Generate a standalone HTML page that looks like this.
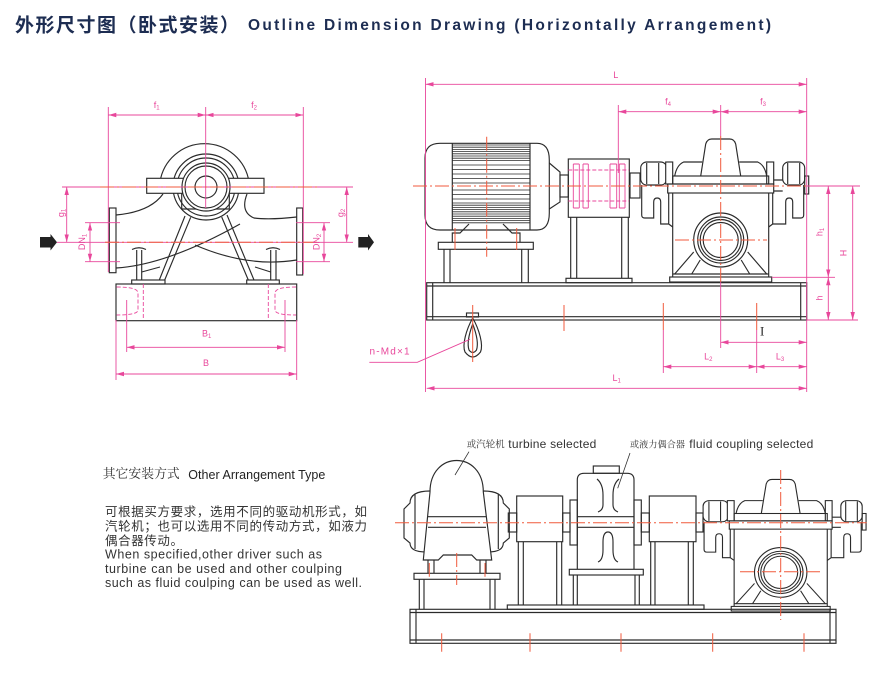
<!DOCTYPE html>
<html><head><meta charset="utf-8">
<style>
html,body{margin:0;padding:0;background:#fff;width:887px;height:679px;overflow:hidden}
svg{display:block}
.k{stroke:#2b2b2b;stroke-width:1.15;fill:none}
.w{fill:#fff}
.p{stroke:#e8479b;stroke-width:0.9;fill:none}
.dm{stroke:#e8479b;stroke-width:0.9;fill:none;marker-start:url(#ar);marker-end:url(#ar)}
.r{stroke:#f05a3c;stroke-width:1;fill:none;stroke-dasharray:14 3 2 3}
.rs{stroke:#f05a3c;stroke-width:1;fill:none}
.pd{stroke:#e8479b;stroke-width:0.9;fill:none;stroke-dasharray:4 2}
.pt{fill:#e8479b;font-family:"Liberation Sans",sans-serif;font-size:9px;text-anchor:middle}
</style></head><body>
<svg width="887" height="679" viewBox="0 0 887 679" xmlns="http://www.w3.org/2000/svg">
<defs>
<marker id="ar" viewBox="0 0 8 6" refX="8" refY="3" markerWidth="8" markerHeight="6" markerUnits="userSpaceOnUse" orient="auto-start-reverse"><path d="M0,0.8 L8,3 L0,5.2 z" fill="#e8479b"/></marker>
<g id="pump" fill="none" stroke="#2b2b2b" stroke-width="1.15">
 <path d="M-79,-1 V29 Q-79,32 -76,32 H-67 V16 Q-67,12 -63.5,12 Q-60,12 -60,16 V38 H-52 V7 M-52,38 L-48,41"/>
 <rect x="-80" y="-24" width="26" height="23" rx="6" fill="#fff"/>
 <path d="M-74,-23 V-2 M-62,-23 V-2"/>
 <rect x="-55" y="-24" width="7" height="22" fill="#fff"/>
 <rect x="46" y="-24" width="7" height="22" fill="#fff"/>
 <path d="M53,-6 H62 M53,5 H62"/>
 <path d="M83,-1 V29 Q83,32 80,32 H72 V16 Q72,12 68.5,12 Q65,12 65,16 V38 H52 V7 M52,38 L48,41"/>
 <rect x="62" y="-24" width="22" height="23" rx="6" fill="#fff"/>
 <path d="M67,-23 V-2 M79,-23 V-2"/>
 <rect x="84" y="-10" width="4" height="18"/>
 <path d="M-46,-10 Q-44,-21 -37,-24 H-18.5 M46,-10 Q44,-21 37,-24 H18.5"/>
 <path d="M-20,-10 L-15,-42 Q-13.5,-47 -9,-47 H9 Q13.5,-47 15,-42 L20,-10"/>
 <rect x="-48" y="-10" width="96" height="8"/>
 <rect x="-53" y="-2" width="106" height="9"/>
 <path d="M-48,7 V91 M48,7 V91 M-48,88 H48"/>
 <rect x="-51" y="91" width="102" height="5"/>
 <path d="M-27,66 L-46,88 M-20.5,74 L-29,88 M27,66 L46,88 M20.5,74 L29,88"/>
 <circle cx="0" cy="54" r="27" fill="#fff"/>
 <circle cx="0" cy="54" r="23"/>
 <circle cx="0" cy="54" r="20.5"/>
 <circle cx="0" cy="54" r="17.5"/>
</g>
</defs>

<!-- Title -->
<text x="15" y="31.5" font-family="'Liberation Sans','Noto Sans CJK SC',sans-serif" font-weight="bold" font-size="19" fill="#1d2d52" textLength="224" lengthAdjust="spacing">外形尺寸图（卧式安装）</text>
<text x="248" y="30" font-family="'Liberation Sans',sans-serif" font-weight="bold" font-size="15.5" fill="#1d2d52" textLength="523" lengthAdjust="spacing">Outline Dimension Drawing (Horizontally Arrangement)</text>

<!-- ===== LEFT VIEW ===== -->
<g class="k">
 <circle cx="206" cy="187" r="33"/>
 <circle cx="206" cy="187" r="29"/>
 <path d="M160,182 A45,45 0 0 1 249,182"/>
 <path d="M163,194 Q150,212 116,215"/>
 <path d="M247,194 Q240,212 254,218 Q270,220 296.7,217"/>
 <path d="M116,268 C150,266 190,252 240,224"/>
 <path d="M195,245 C225,258 260,266 296.7,260"/>
 <path d="M185,216 L159.3,280 M190.7,217.3 L164.7,280 M221.7,217 L248.3,280 M227,215 L254,280"/>
 <path d="M141.7,272 L160,267 M255,267 L270.7,272"/>
 <path d="M136.7,280 V250 M141.7,280 V250 M132,249.5 Q139,246 146,249.5 M270.7,280 V250 M276,280 V250 M266,249.5 Q273,246 280,249.5"/>
 <rect class="w" x="146.7" y="178.3" width="117.3" height="15"/>
 <path d="M181.7,193.3 V209 H229.3 V193.3"/>
 <circle class="w" cx="206" cy="187" r="24"/>
 <circle cx="206" cy="187" r="21"/>
 <circle cx="206" cy="187" r="11"/>
 <rect class="w" x="109.3" y="208" width="6.7" height="64.7"/>
 <rect class="w" x="296.7" y="208" width="6" height="67"/>
 <rect x="131.7" y="280" width="33.3" height="4"/>
 <rect x="246.7" y="280" width="32.6" height="4"/>
 <rect x="116" y="284" width="180.7" height="36.7"/>
</g>
<path class="pd" d="M116.7,287 Q138,287 138,293 V310 Q138,315 116.7,315 M143.3,284 V320 M296,287 Q275,287 275,293 V310 Q275,315 296,315 M268.3,284 V320"/>
<path fill="#222" d="M40,237 H50.5 V234 L57,242.3 L50.5,250.5 V247.5 H40 Z"/>
<path fill="#222" d="M358.3,237 H368 V234 L374,242.3 L368,250.5 V247.5 H358.3 Z"/>

<path class="p" d="M108.3,107 V272 M303.3,107 V274 M205.7,107 V208 M62,187 H353 M57,242.3 H353 M85,222.7 H120 M85,261.7 H120 M296,222.7 H330 M296,261.7 H330 M116,320 V380 M296.7,320 V380 M126.7,300 V352 M285,300 V352"/>
<path class="r" d="M100,187 H320 M105,242.3 H320"/>
<path class="dm" d="M108.3,115 H205.7"/>
<path class="dm" d="M205.7,115 H303.3"/>
<path class="dm" d="M66.7,187 V242.3"/>
<path class="dm" d="M90,222.7 V261.7"/>
<path class="dm" d="M346.7,187 V242.3"/>
<path class="dm" d="M324,222.7 V261.7"/>
<path class="dm" d="M126.7,347.3 H285"/>
<path class="dm" d="M116,374 H296.7"/>
<text class="pt" x="156.7" y="108">f<tspan font-size="6" dy="1.5">1</tspan></text>
<text class="pt" x="254" y="108">f<tspan font-size="6" dy="1.5">2</tspan></text>
<text class="pt" transform="translate(64,213) rotate(-90)">g<tspan font-size="6" dy="1.5">1</tspan></text>
<text class="pt" transform="translate(85,242) rotate(-90)">DN<tspan font-size="6" dy="1.5">1</tspan></text>
<text class="pt" transform="translate(343.5,213) rotate(-90)">g<tspan font-size="6" dy="1.5">2</tspan></text>
<text class="pt" transform="translate(319.5,242) rotate(-90)">DN<tspan font-size="6" dy="1.5">2</tspan></text>
<text class="pt" x="206.7" y="336.5">B<tspan font-size="6" dy="1.5">1</tspan></text>
<text class="pt" x="206" y="366">B</text>

<!-- ===== RIGHT VIEW ===== -->
<g class="k">
 <rect x="426.7" y="282.7" width="380" height="37.3"/>
 <path d="M426.7,286 H806.7 M426.7,316.7 H806.7 M432.7,282.7 V320 M800.7,282.7 V320"/>
 <path d="M440,143.3 H537 Q549.3,143.3 549.3,160 V213 Q549.3,230 537,230 H440 Q425,230 425,215 V158 Q425,143.3 440,143.3 Z"/>
 <path d="M452.3,143.3 V230 M530,143.3 V230"/>
 <path stroke-width="0.8" d="M452.3,145 H530 M452.3,147.2 H530 M452.3,149.4 H530 M452.3,151.6 H530 M452.3,153.8 H530 M452.3,156 H530 M452.3,158.2 H530 M452.3,160.4 H530 M452.3,165 H530 M452.3,169.5 H530 M452.3,174 H530 M452.3,178.5 H530 M452.3,183 H530 M452.3,190 H530 M452.3,194.5 H530 M452.3,199 H530 M452.3,203 H530 M452.3,205.2 H530 M452.3,207.4 H530 M452.3,209.6 H530 M452.3,211.8 H530 M452.3,214 H530 M452.3,216.2 H530 M452.3,218.4 H530 M452.3,220.6 H530 M452.3,222.8 H530"/>
 <path d="M452.3,242.3 V233 H460 L469,224 M503,224 L512,233 H520 V242.3"/>
 <rect x="438.3" y="242.3" width="95" height="7"/>
 <path d="M444,249.3 V282.7 M450,249.3 V282.7 M521.7,249.3 V282.7 M528.3,249.3 V282.7"/>
 <path d="M549.3,163 L560,172 V202 L549.3,209"/>
 <rect x="560" y="175" width="8.3" height="22"/>
 <rect x="568.3" y="159" width="61" height="58.3"/>
 <path d="M570.7,217.3 V278.3 M576.7,217.3 V278.3 M621.7,217.3 V278.3 M628.3,217.3 V278.3"/>
 <rect x="566" y="278.3" width="66" height="4.4"/>
 <rect x="630" y="173" width="10" height="25"/>
 <rect x="466.5" y="313" width="12" height="4"/>
 <path d="M472.7,318 C466,330 462,345 465,352 Q472.7,362 480.5,352 C483.5,345 479.5,330 472.7,318 Z"/>
 <path d="M472.7,324 C469,334 467,344 469,350 Q472.7,355 476.5,350 C478.5,344 476.5,334 472.7,324 Z"/>
</g>
<path class="p" d="M573.3,164 V208 M579.3,164 V208 M583,164 V208 M588.3,164 V208 M610,164 V208 M616.7,164 V208 M619.3,164 V208 M625,164 V208 M573.3,164 H579.3 M583,164 H588.3 M610,164 H616.7 M619.3,164 H625 M573.3,208 H579.3 M583,208 H588.3 M610,208 H616.7 M619.3,208 H625"/>
<path class="pd" d="M568.3,170 H629 M568.3,201 H629"/>
<g transform="translate(720.7,186)"><use href="#pump"/></g>

<path class="p" d="M425.5,78 V392 M806.7,78 V392 M618.3,105 V173 M720.7,105 V136 M720.7,282 V348 M806.7,186 H860 M771.7,277.3 H835 M806.7,320 H858 M663.3,330 V373 M756.7,330 V373"/>
<path class="p" d="M470,339.3 L417.3,362.3 H369.3"/>
<path class="dm" d="M425.5,84.3 H806.7"/>
<path class="dm" d="M618.3,111.7 H720.7"/>
<path class="dm" d="M720.7,111.7 H806.7"/>
<path class="dm" d="M828.3,186 V277.3"/>
<path class="dm" d="M828.3,277.3 V320"/>
<path class="dm" d="M852.7,186 V320"/>
<path class="dm" d="M720.7,342.3 H806.7"/>
<path class="dm" d="M663.3,366.7 H756.7"/>
<path class="dm" d="M756.7,366.7 H806.7"/>
<path class="dm" d="M426.7,388.3 H806.7"/>
<text class="pt" x="615.7" y="78">L</text>
<text class="pt" x="668" y="104.5">f<tspan font-size="6" dy="1.5">4</tspan></text>
<text class="pt" x="763" y="104.5">f<tspan font-size="6" dy="1.5">3</tspan></text>
<text class="pt" transform="translate(822.5,232) rotate(-90)">h<tspan font-size="6" dy="1.5">1</tspan></text>
<text class="pt" transform="translate(846.5,253) rotate(-90)">H</text>
<text class="pt" transform="translate(822.5,298) rotate(-90)">h</text>
<text class="pt" x="708.3" y="359.5">L<tspan font-size="6" dy="1.5">2</tspan></text>
<text class="pt" x="780" y="359.5">L<tspan font-size="6" dy="1.5">3</tspan></text>
<text class="pt" x="616.7" y="381">L<tspan font-size="6" dy="1.5">1</tspan></text>
<text x="369.5" y="354.5" font-family="'Liberation Sans',sans-serif" font-size="10" fill="#e8479b" textLength="40" lengthAdjust="spacing">n-Md×1</text>
<text x="760" y="335.5" font-family="'Liberation Serif',serif" font-size="13" fill="#2b2b2b">I</text>

<path class="r" d="M413,186 H806.7 M486.7,136.7 V256.7 M720.7,136 V282 M675,240 H767"/>
<path class="rs" d="M455,228 V250 M516.7,228 V250 M564,305 V331 M663.3,303 V330 M756.7,303 V330 M472.7,305 V362"/>

<!-- ===== BOTTOM VIEW ===== -->
<g class="k">
 <rect x="410" y="609.3" width="426" height="34"/>
 <path d="M416,609.3 V643.3 M830,609.3 V643.3 M410,640 H836 M410,612.5 H836"/>
 <path d="M430,491 Q410,491 410,503 L404,509 V538 L410,543 Q410,552 426,552 M415,494 V549"/>
 <path d="M483.3,491 Q503.3,491 503.3,503 L509.3,509 V538 L503.3,543 Q503.3,552 488,552 M498.3,494 V549"/>
 <path class="w" d="M430,492 C430,450 483.3,450 483.3,492 L491.7,560 H476.7 L471.7,555 H443.3 L438.3,560 H423.3 Z"/>
 <path d="M428,516.7 H486 M428,527.3 H486"/>
 <rect x="508.3" y="513" width="8.4" height="19"/>
 <path d="M428,560 V573.3 M434,560 V573.3 M480,560 V573.3 M486,560 V573.3"/>
 <rect x="414" y="573.3" width="86" height="6"/>
 <path d="M419.3,579.3 V609.3 M424,579.3 V609.3 M490,579.3 V609.3 M495,579.3 V609.3"/>
 <rect x="516.7" y="496" width="46" height="45.7"/>
 <path d="M518.3,541.7 V605 M523.3,541.7 V605 M556.7,541.7 V605 M561.7,541.7 V605"/>
 <rect x="507.3" y="605" width="196.7" height="4.3"/>
 <rect x="562.7" y="513" width="7.3" height="19"/>
 <path d="M577.3,569.3 V480 Q577.3,473.3 584,473.3 H627.3 Q634,473.3 634,480 V569.3"/>
 <rect x="593.3" y="466" width="26" height="7.3"/>
 <path d="M577.3,516.7 H634 M577.3,527.3 H634"/>
 <rect x="570" y="500" width="7.3" height="45"/>
 <rect x="634" y="500" width="7.3" height="45"/>
 <path d="M597,479 Q603,484 603,495 V505 Q603,510 598,512 M619,479 Q613,484 613,495 V505 Q613,510 618,512"/>
 <path d="M598,562 Q603,560 603,550 V542 Q603,532 608,532 Q613,532 613,542 V550 Q613,560 618,562"/>
 <rect x="569.3" y="569.3" width="74" height="5.7"/>
 <path d="M573.3,575 V605 M577.3,575 V605 M635,575 V605 M639.3,575 V605"/>
 <rect x="641.3" y="513" width="8" height="19"/>
 <rect x="649.3" y="496" width="46.7" height="45.7"/>
 <path d="M650.7,541.7 V605 M655,541.7 V605 M688.3,541.7 V605 M693.3,541.7 V605"/>
 <rect x="696" y="513" width="7" height="19"/>
</g>
<g transform="translate(780.7,522.7) scale(0.97,0.92)"><use href="#pump"/></g>
<path class="r" d="M395,522.7 H866.7 M780.7,470 V620 M740,571.7 H821.7 M456.7,553 V585"/>
<path class="rs" d="M441.7,633.3 V651.7 M530,633.3 V651.7 M621,633.3 V651.7 M712.7,633.3 V651.7 M804,633.3 V651.7 M429.3,563 V576.7 M485,563 V576.7"/>

<path stroke="#333" stroke-width="0.8" fill="none" d="M469,451.7 L455,475 M630,453 L617.7,488.3"/>
<text x="466.7" y="447.5" font-family="'Noto Serif CJK SC',serif" font-size="9.4" fill="#333" textLength="38" lengthAdjust="spacing">或汽轮机</text>
<text x="508.3" y="448" font-family="'Liberation Sans',sans-serif" font-size="12" fill="#333" textLength="88" lengthAdjust="spacing">turbine selected</text>
<text x="630" y="447.5" font-family="'Noto Serif CJK SC',serif" font-size="9.1" fill="#333" textLength="55" lengthAdjust="spacing">或液力偶合器</text>
<text x="689.3" y="448" font-family="'Liberation Sans',sans-serif" font-size="12" fill="#333" textLength="124" lengthAdjust="spacing">fluid coupling selected</text>

<text x="102.7" y="478" font-family="'Noto Serif CJK SC',serif" font-size="12.8" fill="#333" textLength="77" lengthAdjust="spacing">其它安装方式</text>
<text x="188.3" y="479" font-family="'Liberation Sans',sans-serif" font-size="12.5" fill="#222" textLength="137" lengthAdjust="spacing">Other Arrangement Type</text>
<g font-family="'Liberation Sans','Noto Sans CJK SC',sans-serif" font-size="12.5" fill="#333">
<text x="105" y="516" textLength="262" lengthAdjust="spacing">可根据买方要求，选用不同的驱动机形式，如</text>
<text x="105" y="530.5" textLength="262" lengthAdjust="spacing">汽轮机；也可以选用不同的传动方式，如液力</text>
<text x="105" y="545" textLength="78" lengthAdjust="spacing">偶合器传动。</text>
<text x="105" y="558.5" textLength="217" lengthAdjust="spacing">When specified,other driver such as</text>
<text x="105" y="573" textLength="237" lengthAdjust="spacing">turbine can be used and other coulping</text>
<text x="105" y="587" textLength="257" lengthAdjust="spacing">such as fluid coulping can be used as well.</text>
</g>
</svg>
</body></html>
